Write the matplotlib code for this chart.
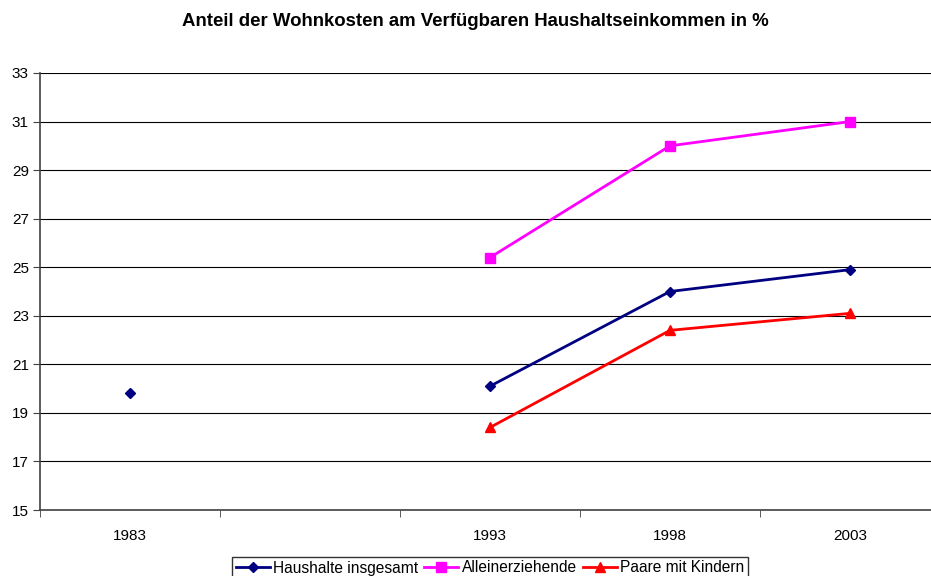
import matplotlib.pyplot as plt
import numpy as np

plt.rcParams['font.family'] = ['Liberation Sans', 'DejaVu Sans']

years = ['1983', '', '1993', '1998', '2003']
haushalte = [19.8, np.nan, 20.1, 24.0, 24.9]
allein = [np.nan, np.nan, 25.4, 30.0, 31.0]
paare = [np.nan, np.nan, 18.4, 22.4, 23.1]

fig = plt.figure(figsize=(9.31, 5.76), dpi=100)
ax = fig.add_axes([40 / 931, 1 - 510 / 576, 900 / 931, 437 / 576])

x = np.arange(len(years))
ax.plot(x, haushalte, color='#000080', marker='D', markersize=5, lw=2, label='Haushalte insgesamt')
ax.plot(x, allein, color='#FF00FF', marker='s', markersize=7, lw=2, label='Alleinerziehende')
ax.plot(x, paare, color='#FF0000', marker='^', markersize=7, lw=2, label='Paare mit Kindern')

ax.set_xlim(-0.5, len(years) - 0.5)
ax.set_ylim(15, 33)
ax.set_yticks(np.arange(15, 34, 2))
ax.set_xticks(x)
ax.set_xticklabels(years)
ax.set_xticks(np.arange(-0.5, len(years), 1), minor=True)
ax.tick_params(axis='x', which='major', length=0, pad=14, labelsize=11)
ax.tick_params(axis='x', which='minor', length=5, color='#404040')
ax.tick_params(axis='y', length=5, color='#404040', labelsize=11, pad=3)
ax.yaxis.grid(True, color='black', lw=0.8)
ax.set_axisbelow(True)
for s in ['top', 'right']:
    ax.spines[s].set_visible(False)
for s in ['left', 'bottom']:
    ax.spines[s].set_color('#404040')
    ax.spines[s].set_linewidth(1.2)

fig.text(475 / 931, 1 - 22 / 576, 'Anteil der Wohnkosten am Verfügbaren Haushaltseinkommen in %',
         ha='center', va='center', fontsize=13.4, fontweight='bold')

leg = fig.legend(loc='center', bbox_to_anchor=(490 / 931, 1 - 568 / 576), ncol=3,
                 fontsize=11.2, frameon=True, fancybox=False, edgecolor='black',
                 handlelength=2.2, handletextpad=0.2, columnspacing=0.4,
                 borderpad=0.25, borderaxespad=0)
leg.get_frame().set_linewidth(1)

fig.savefig('out.png', dpi=100)
